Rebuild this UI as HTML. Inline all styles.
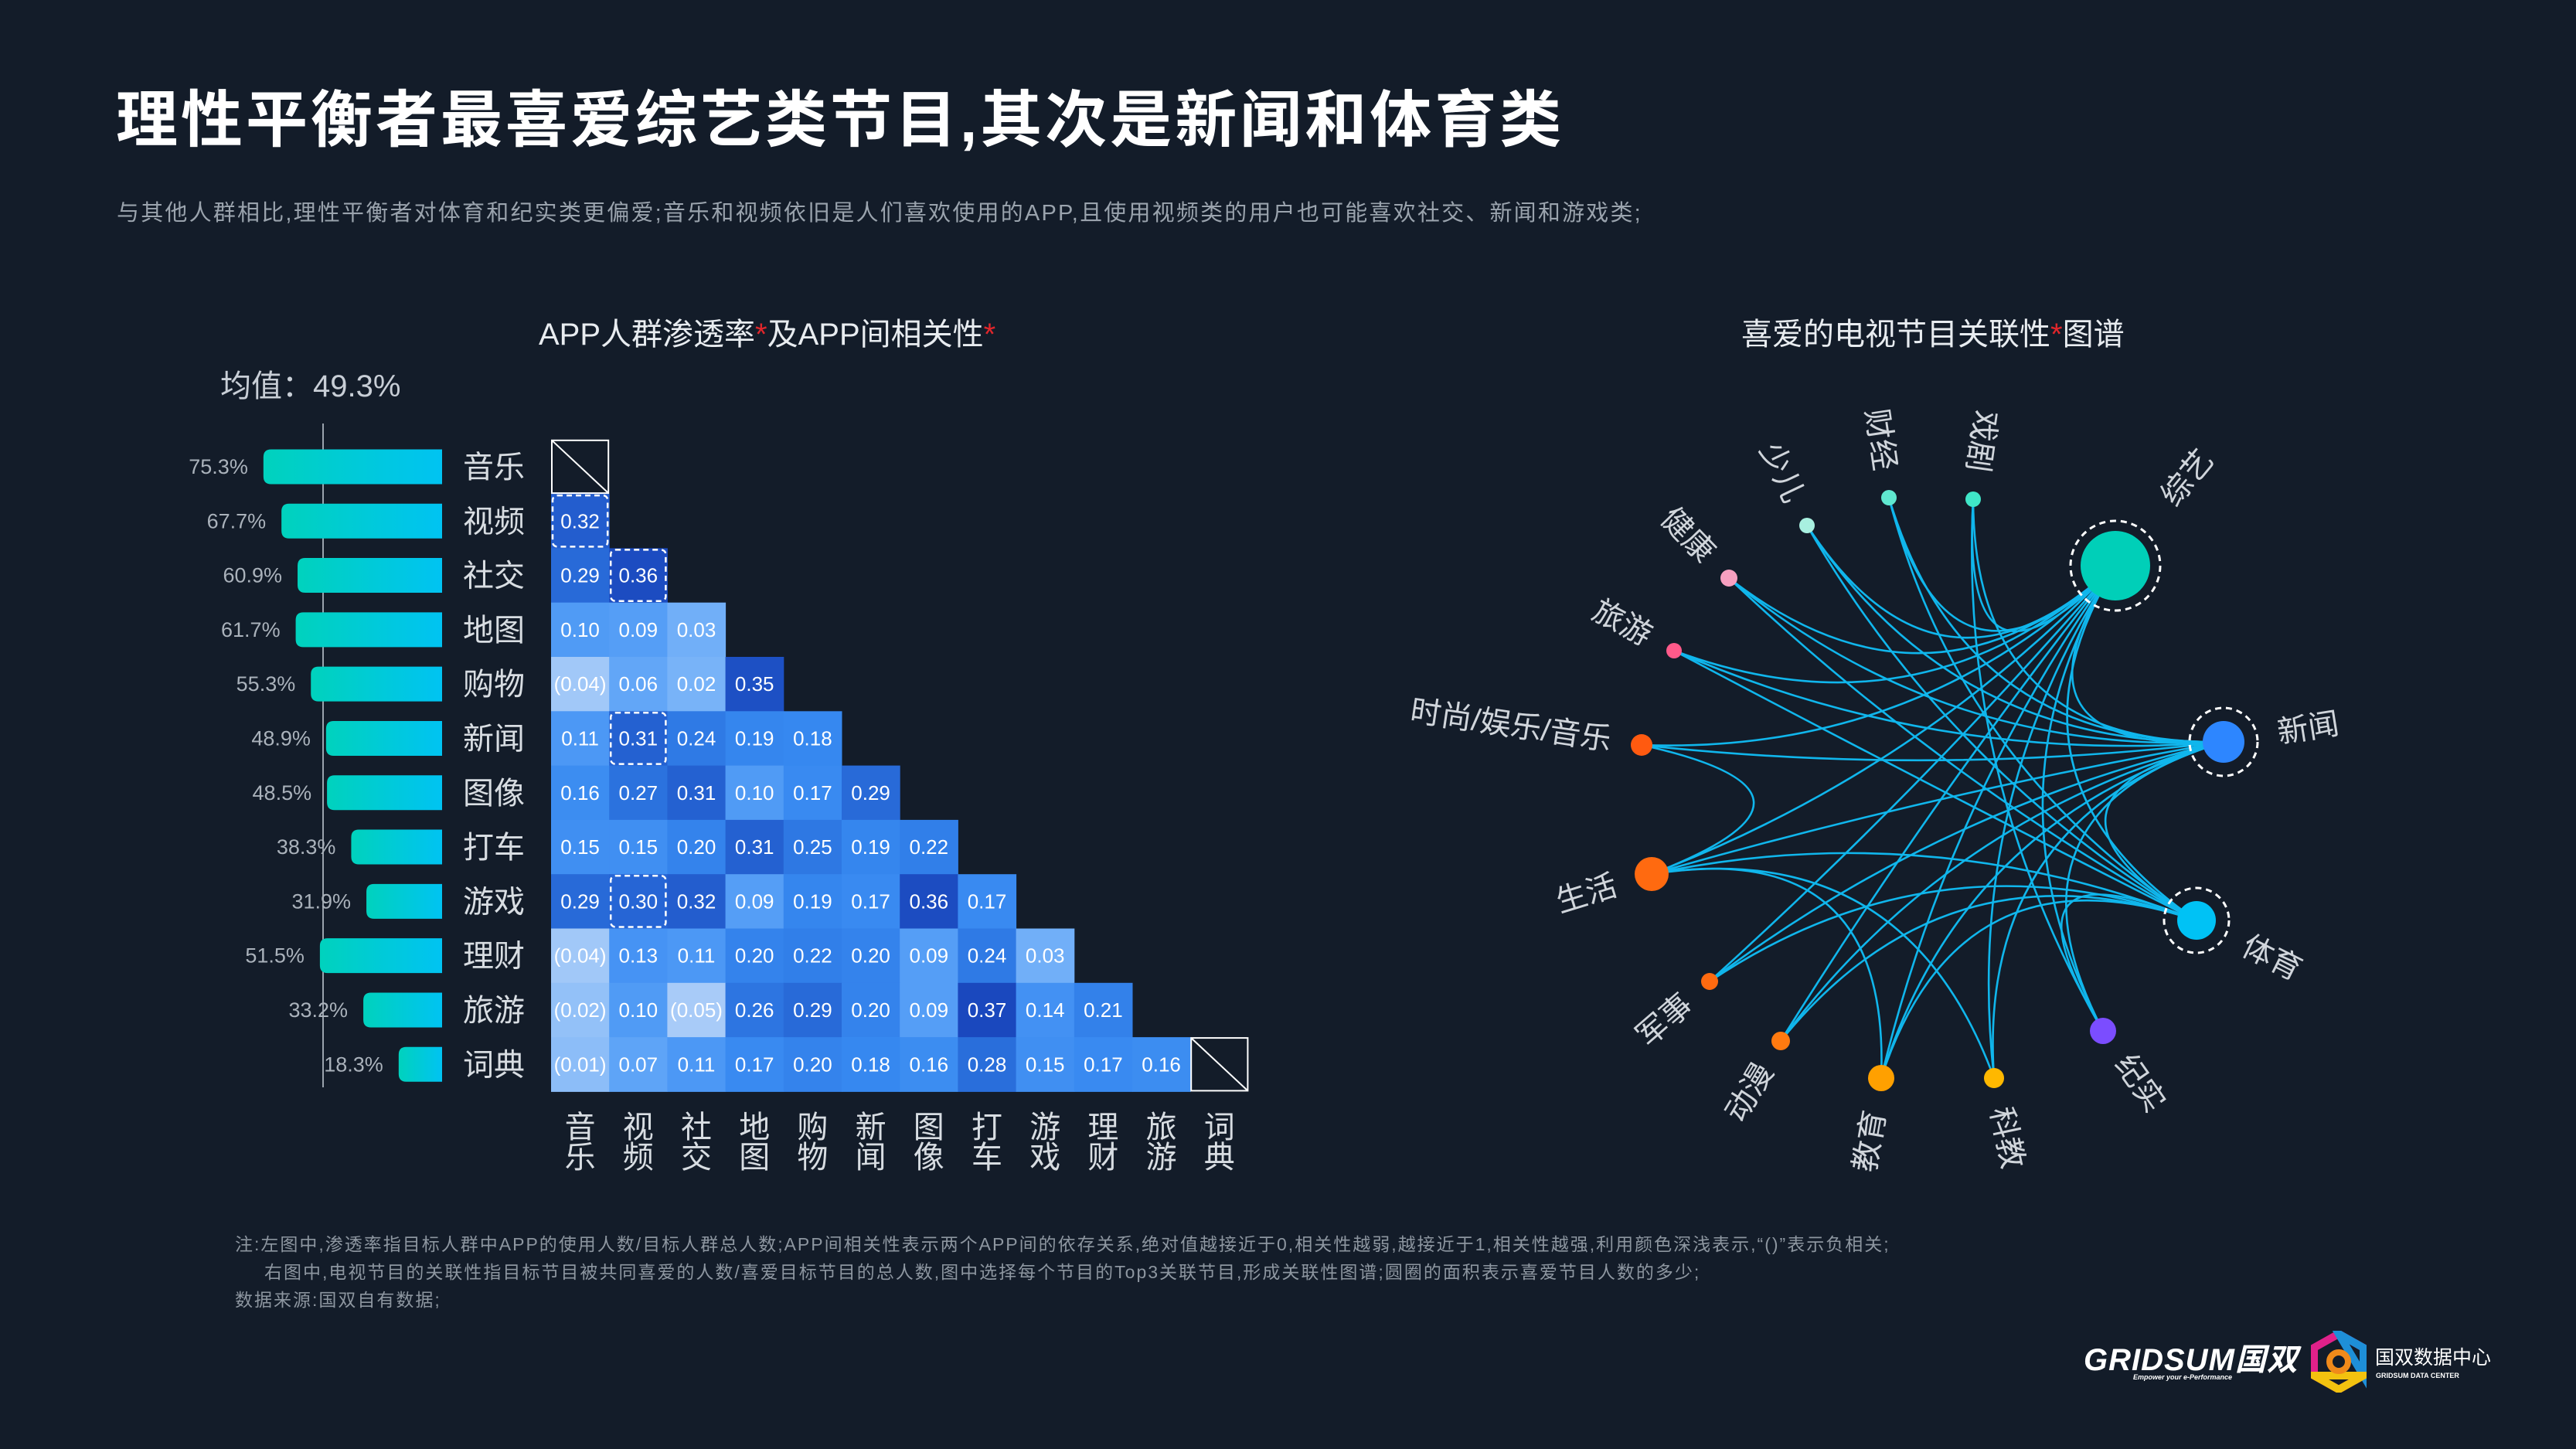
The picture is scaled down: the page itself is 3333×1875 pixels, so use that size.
<!DOCTYPE html>
<html><head><meta charset="utf-8">
<style>
html,body{margin:0;padding:0;background:#131c29;}
body{width:3333px;height:1875px;position:relative;overflow:hidden;font-family:"Liberation Sans","Noto Sans CJK SC",sans-serif;color:#fff;}
.abs{position:absolute;white-space:nowrap;}
</style></head>
<body>
<div class="abs" style="left:150px;top:106px;font-size:80px;font-weight:bold;line-height:100px;letter-spacing:4px;">理性平衡者最喜爱综艺类节目,其次是新闻和体育类</div>
<div class="abs" style="left:151px;top:258px;font-size:29px;color:#9aa3ad;line-height:36px;letter-spacing:2.2px;">与其他人群相比,理性平衡者对体育和纪实类更偏爱;音乐和视频依旧是人们喜欢使用的APP,且使用视频类的用户也可能喜欢社交、新闻和游戏类;</div>
<div class="abs" style="left:697px;top:408px;font-size:40px;line-height:50px;color:#e8ecf0;">APP人群渗透率<span style="color:#e0262b">*</span>及APP间相关性<span style="color:#e0262b">*</span></div>
<div class="abs" style="left:2253px;top:408px;font-size:40px;line-height:50px;color:#e8ecf0;">喜爱的电视节目关联性<span style="color:#e0262b">*</span>图谱</div>
<div class="abs" style="left:285px;top:475px;font-size:40px;line-height:50px;color:#c8ced6;">均值：49.3%</div>

<svg id="left" class="abs" style="left:0;top:0" width="1700" height="1560"></svg>
<svg id="net" class="abs" style="left:1700px;top:0" width="1633" height="1560"></svg>

<div class="abs" style="left:304px;top:1592px;font-size:23px;line-height:36px;color:#8d96a0;letter-spacing:2px;">注:左图中,渗透率指目标人群中APP的使用人数/目标人群总人数;APP间相关性表示两个APP间的依存关系,绝对值越接近于0,相关性越弱,越接近于1,相关性越强,利用颜色深浅表示,“()”表示负相关;<br><span style="padding-left:38px">右图中,电视节目的关联性指目标节目被共同喜爱的人数/喜爱目标节目的总人数,图中选择每个节目的Top3关联节目,形成关联性图谱;圆圈的面积表示喜爱节目人数的多少;</span><br>数据来源:国双自有数据;</div>

<div class="abs" style="left:2696px;top:1738px;font-size:40px;font-weight:bold;font-style:italic;line-height:44px;letter-spacing:1px;">GRIDSUM国双</div>
<div class="abs" style="left:2760px;top:1777px;font-size:9px;font-weight:bold;font-style:italic;">Empower your e-Performance</div>
<svg class="abs" style="left:2990px;top:1722px" width="72" height="80">
<polygon points="36,4 68,22 68,58 36,76 4,58 4,22" fill="none" stroke="#e0218a" stroke-width="10"/>
<polygon points="36,4 68,22 68,58" fill="none" stroke="#1e8fd8" stroke-width="10"/>
<polygon points="68,58 36,76 4,58" fill="none" stroke="#f2c20f" stroke-width="10"/>
<circle cx="36" cy="40" r="12" fill="none" stroke="#f08a1a" stroke-width="8"/>
</svg>
<div class="abs" style="left:3073px;top:1742px;font-size:25px;line-height:30px;">国双数据中心</div>
<div class="abs" style="left:3074px;top:1775px;font-size:9px;font-weight:bold;">GRIDSUM DATA CENTER</div>

<script>
const NS='http://www.w3.org/2000/svg';
function mk(parent,tag,attrs){const e=document.createElementNS(NS,tag);for(const k in attrs)e.setAttribute(k,attrs[k]);parent.appendChild(e);return e;}

// ---------- left chart data ----------
const apps=['音乐','视频','社交','地图','购物','新闻','图像','打车','游戏','理财','旅游','词典'];
const penetration=[75.3,67.7,60.9,61.7,55.3,48.9,48.5,38.3,31.9,51.5,33.2,18.3];
const corrRows=[
 [],
 [0.32],
 [0.29,0.36],
 [0.10,0.09,0.03],
 [-0.04,0.06,0.02,0.35],
 [0.11,0.31,0.24,0.19,0.18],
 [0.16,0.27,0.31,0.10,0.17,0.29],
 [0.15,0.15,0.20,0.31,0.25,0.19,0.22],
 [0.29,0.30,0.32,0.09,0.19,0.17,0.36,0.17],
 [-0.04,0.13,0.11,0.20,0.22,0.20,0.09,0.24,0.03],
 [-0.02,0.10,-0.05,0.26,0.29,0.20,0.09,0.37,0.14,0.21],
 [-0.01,0.07,0.11,0.17,0.20,0.18,0.16,0.28,0.15,0.17,0.16]
];
const highlighted=[[1,0],[2,1],[5,1],[8,1]];

const L=document.getElementById('left');
const cellX0=713,cellW=75.2,rowY0=568.8,rowH=70.3,barRight=572,pxPerPct=3.07,barH=45;
const xCell=c=>cellX0+c*cellW, yRow=r=>rowY0+r*rowH;
const xBar=p=>barRight-p*pxPerPct;

const defs=mk(L,'defs',{});
const lg=mk(defs,'linearGradient',{id:'barg',x1:'0',x2:'1',y1:'0',y2:'0'});
mk(lg,'stop',{offset:'0','stop-color':'#00d2bd'});
mk(lg,'stop',{offset:'1','stop-color':'#00c3f2'});

const axis=mk(L,'line',{x1:418,x2:418,y1:548,y2:1407,stroke:'#9aa3ad','stroke-width':2});



function lerp(a,b,t){return Math.round(a+(b-a)*t);}
function cellColor(v){
  let t=(v+0.05)/0.42; t=Math.max(0,Math.min(1,t));
  const stops=[[0,[168,203,248]],[0.2,[110,174,248]],[0.38,[76,152,245]],[0.55,[54,136,240]],[0.75,[44,116,224]],[1,[26,72,190]]];
  for(let i=0;i<stops.length-1;i++){const a=stops[i],b=stops[i+1];if(t<=b[0]){const u=(t-a[0])/(b[0]-a[0]);return `rgb(${lerp(a[1][0],b[1][0],u)},${lerp(a[1][1],b[1][1],u)},${lerp(a[1][2],b[1][2],u)})`;}}
  return 'rgb(26,72,190)';
}

apps.forEach((name,i)=>{
  const yc=yRow(i)+rowH/2;
  const x0=xBar(penetration[i]);
  const b=mk(L,'path',{d:`M${x0+10},${yc-barH/2} H${barRight} V${yc+barH/2} H${x0+10} Q${x0},${yc+barH/2} ${x0},${yc+barH/2-10} V${yc-barH/2+10} Q${x0},${yc-barH/2} ${x0+10},${yc-barH/2} Z`,fill:'url(#barg)'});
  
  
  const pl=mk(L,'text',{x:x0-20,y:yc+9,'text-anchor':'end','font-size':27,fill:'#aab2bb'});
  pl.textContent=penetration[i].toFixed(1)+'%';
  
  
  const rl=mk(L,'text',{x:639,y:yc+14,'text-anchor':'middle','font-size':40,fill:'#d8dde2'});
  rl.textContent=name;
  
  
  const cx=xCell(i)+cellW/2;
  const c1=mk(L,'text',{x:cx,y:1472,'text-anchor':'middle','font-size':40,fill:'#d8dde2'});
  c1.textContent=name[0];
  const c2=mk(L,'text',{x:cx,y:1511,'text-anchor':'middle','font-size':40,fill:'#d8dde2'});
  c2.textContent=name[1];
  
  
  
  
});

corrRows.forEach((row,r)=>{
  row.forEach((v,c)=>{
    const rc=mk(L,'rect',{x:xCell(c),y:yRow(r),width:cellW+0.5,height:rowH+0.5,fill:cellColor(v)});
    
    
    const t=mk(L,'text',{x:xCell(c)+cellW/2,y:yRow(r)+rowH/2+9,'text-anchor':'middle','font-size':26,fill:'#fff'});
    t.textContent=v<0?'('+Math.abs(v).toFixed(2)+')':v.toFixed(2);
    
    
  });
});
highlighted.forEach(([r,c])=>{
  const h=mk(L,'rect',{x:xCell(c)+2,y:yRow(r)+2,width:cellW-4,height:rowH-4,rx:6,fill:'none',stroke:'#fff','stroke-width':2.5,'stroke-dasharray':'7 5'});
  
  
});
[0,11].forEach(i=>{
  const x=xCell(i),y=yRow(i);
  const d=mk(L,'rect',{x:x+1,y:y+1,width:cellW-2,height:rowH-2,fill:'#131c29',stroke:'#fff','stroke-width':2});
  
  
  mk(L,'line',{x1:x+1,y1:y+1,x2:x+cellW-1,y2:y+rowH-1,stroke:'#fff','stroke-width':2});
});

// ---------- network ----------
const progNames=['综艺','新闻','体育','纪实','科教','教育','动漫','军事','生活','时尚/娱乐/音乐','旅游','健康','少儿','财经','戏剧'];
const progX=[2737,2877,2842,2721,2580,2434,2304,2212,2137,2124,2166,2237,2338,2444,2553];
const progY=[732,960,1191,1334,1395,1395,1347,1270,1131,964,842,748,680,644,646];
const progR=[45,27,25,17,13,17,12,11,22,14,10,11,10,10,10];
const progColor=['#00cfb8','#2d86ff','#00c2f5','#7b4dff','#ffb800','#ffa000','#ff7a10','#ff6a10','#ff6a10','#ff5a10','#ff5a8a','#f7a0c0','#a8f0e0','#60e8d0','#40e6c8'];
const ringed=[0,1,2];
const links=[[0,1],[0,2],[1,2],[3,0],[3,1],[3,2],[4,0],[4,1],[4,8],[5,0],[5,1],[5,2],[5,8],[6,0],[6,1],[6,2],[7,0],[7,1],[7,2],[8,0],[8,1],[8,2],[9,0],[9,1],[9,8],[10,0],[10,1],[10,2],[11,0],[11,1],[11,2],[12,0],[12,1],[12,2],[13,0],[13,1],[13,2],[14,0],[14,1],[14,3]];

const N=document.getElementById('net');
const OX=1700, CX=2500, CY=1020;
const g=mk(N,'g',{transform:`translate(${-OX},0)`});
links.forEach(([a,b])=>{
  const x1=progX[a],y1=progY[a],x2=progX[b],y2=progY[b];
  const mx=(x1+x2)/2,my=(y1+y2)/2;
  const qx=CX+(mx-CX)*0.25,qy=CY+(my-CY)*0.25;
  const p=mk(g,'path',{d:`M${x1},${y1} Q${qx},${qy} ${x2},${y2}`,fill:'none',stroke:'#10b6ec','stroke-width':2.6});
  
  
});
progNames.forEach((name,i)=>{
  const x=progX[i],y=progY[i],r=progR[i];
  if(ringed.includes(i)){
    const rg=mk(g,'circle',{cx:x,cy:y,r:r+(i===0?13:17),fill:'none',stroke:'#fff','stroke-width':3,'stroke-dasharray':'8 6'});
    
    
  }
  const c=mk(g,'circle',{cx:x,cy:y,r:r,fill:progColor[i]});
  
  
  const ang=Math.atan2(y-CY,x-CX);
  let deg=ang*180/Math.PI;
  const flip=Math.cos(ang)<0.2;
  const off=r+(i===0?62:(ringed.includes(i)?44:26));
  const tx=x+Math.cos(ang)*off, ty=y+Math.sin(ang)*off;
  const rot=flip?deg+180:deg;
  const t=mk(g,'text',{x:tx,y:ty,'text-anchor':flip?'end':'start','dominant-baseline':'central','font-size':40,fill:'#d0d5db',transform:`rotate(${rot} ${tx} ${ty})`});
  t.textContent=name;
  
  
});
</script>
</body></html>
